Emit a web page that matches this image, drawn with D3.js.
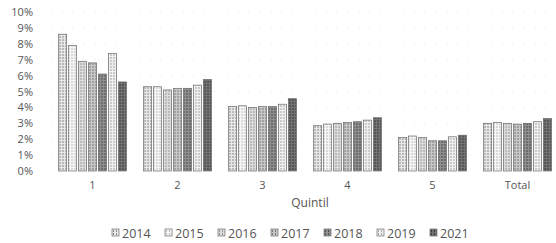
<!DOCTYPE html>
<html>
<head>
<meta charset="utf-8">
<script src="https://cdn.jsdelivr.net/npm/d3@7"></script>
<style>
  body { margin: 0; background: #fff; }
  text { font-family: "Open Sans", sans-serif; fill: #555; }
</style>
</head>
<body>
<div id="chart"></div>
<script>
// categories and series
const quintiles = ["1", "2", "3", "4", "5", "Total"];
const years = ["2014", "2015", "2016", "2017", "2018", "2019", "2021"];
const v2014 = [0.086, 0.053, 0.0405, 0.0285, 0.021, 0.030];
const v2015 = [0.079, 0.053, 0.041, 0.0295, 0.022, 0.0305];
const v2016 = [0.069, 0.051, 0.040, 0.030, 0.021, 0.030];
const v2017 = [0.068, 0.052, 0.0405, 0.0305, 0.019, 0.0295];
const v2018 = [0.061, 0.052, 0.0405, 0.031, 0.019, 0.030];
const v2019 = [0.074, 0.054, 0.042, 0.032, 0.0215, 0.031];
const v2021 = [0.056, 0.0575, 0.0455, 0.0335, 0.0225, 0.033];
const series = [v2014, v2015, v2016, v2017, v2018, v2019, v2021];
const yTicks = [0, 0.01, 0.02, 0.03, 0.04, 0.05, 0.06, 0.07, 0.08, 0.09, 0.10];

const width = 556, height = 243;
const margin = {top: 12, bottom: 72, left: 50, right: -4};

const svg = d3.select("#chart")
    .append("svg")
    .attr("width", width)
    .attr("height", height);

// grey hatch patterns, one per year (scanned look)
const pats = [
    {bg: "#e8e8e8", line: "#8a8a8a"},
    {bg: "#f6f6f6", line: "#bbb"},
    {bg: "#dcdcdc", line: "#999"},
    {bg: "#c8c8c8", line: "#7a7a7a"},
    {bg: "#909090", line: "#4a4a4a"},
    {bg: "#f0f0f0", line: "#a5a5a5"},
    {bg: "#737373", line: "#383838"}
];
const defs = svg.append("defs");
pats.forEach((p, i) => {
    const pat = defs.append("pattern")
        .attr("id", "pat" + i)
        .attr("patternUnits", "userSpaceOnUse")
        .attr("width", 3)
        .attr("height", 3);
    pat.append("rect").attr("width", 3).attr("height", 3).attr("fill", p.bg);
    pat.append("rect").attr("x", 1).attr("width", 1).attr("height", 2).attr("fill", p.line);
});

const x0 = d3.scaleBand()
    .domain(quintiles)
    .range([margin.left, width - margin.right])
    .paddingInner(0.2)
    .paddingOuter(0.1);
const x1 = d3.scaleBand()
    .domain(years)
    .range([0, x0.bandwidth()])
    .paddingInner(0.18);
const y = d3.scaleLinear()
    .domain([0, 0.10])
    .range([171, margin.top]);

// faint gridlines (barely visible on the scan)
svg.append("g")
    .selectAll("line")
    .data(yTicks.slice(1))
    .enter()
    .append("line")
    .attr("x1", margin.left)
    .attr("x2", width)
    .attr("y1", d => y(d))
    .attr("y2", d => y(d))
    .attr("stroke", "#f0f0f0")
    .attr("stroke-dasharray", "2,9");

// y axis labels only
const yAxis = svg.append("g")
    .attr("transform", "translate(36,0)")
    .call(d3.axisLeft(y).tickValues(yTicks).tickFormat(d3.format(".0%")).tickSize(0));
yAxis.select(".domain").remove();
yAxis.selectAll("text").style("font-size", "11px").attr("fill", "#777");

// x axis labels
const xAxis = svg.append("g")
    .attr("transform", "translate(0,178)")
    .call(d3.axisBottom(x0).tickSize(0));
xAxis.select(".domain").remove();
xAxis.selectAll("text").style("font-size", "11px").attr("fill", "#777");

svg.append("text")
    .attr("x", 310)
    .attr("y", 207)
    .attr("text-anchor", "middle")
    .style("font-size", "12px")
    .attr("fill", "#777")
    .text("Quintil");

// bars
const groups = svg.selectAll(".grp")
    .data(quintiles)
    .enter()
    .append("g")
    .attr("transform", d => `translate(${x0(d)},0)`);

years.forEach((yr, k) => {
    groups.append("rect")
        .attr("x", x1(yr))
        .attr("y", (d, i) => y(series[k][i]))
        .attr("width", x1.bandwidth())
        .attr("height", (d, i) => y(0) - y(series[k][i]))
        .attr("fill", `url(#pat${k})`)
        .attr("stroke", "#6a6a6a")
        .attr("stroke-width", 0.7);
});

// legend
const legend = svg.append("g")
    .attr("transform", "translate(112,233)");
years.forEach((yr, k) => {
    const g = legend.append("g").attr("transform", `translate(${k * 53},0)`);
    g.append("rect")
        .attr("x", 0)
        .attr("y", -4)
        .attr("width", 7)
        .attr("height", 7)
        .attr("fill", `url(#pat${k})`)
        .attr("stroke", "#6a6a6a")
        .attr("stroke-width", 0.7);
    g.append("text")
        .attr("x", 10)
        .attr("y", 4.5)
        .style("font-size", "12.5px")
        .attr("fill", "#666")
        .text(yr);
});
</script>
</body>
</html>
